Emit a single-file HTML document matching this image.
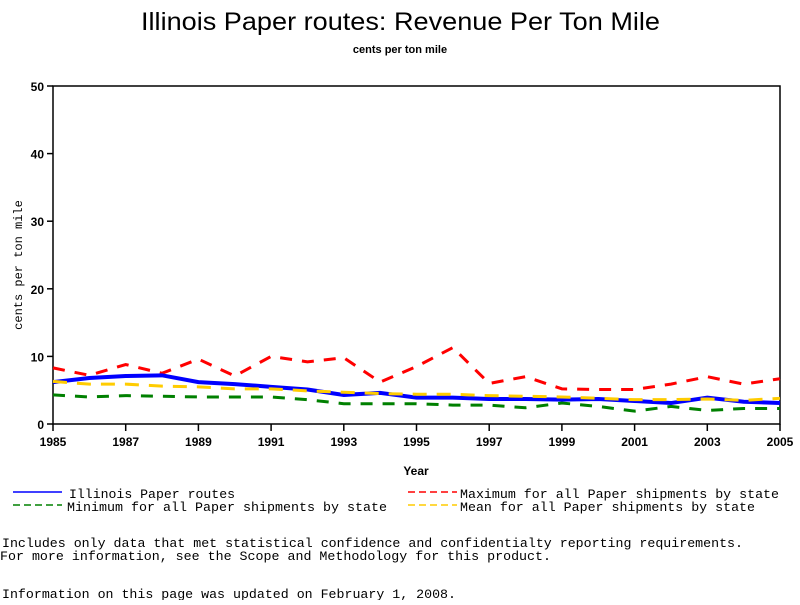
<!DOCTYPE html>
<html><head><meta charset="utf-8"><style>
body{margin:0;background:#fff;width:800px;height:600px;overflow:hidden}
svg text{font-family:"Liberation Sans",sans-serif}
.mono{font-family:"Liberation Mono",monospace}
</style></head><body>
<svg id="chart" width="800" height="600" xmlns="http://www.w3.org/2000/svg">
<text x="141" y="30" font-size="25" textLength="519" lengthAdjust="spacingAndGlyphs">Illinois Paper routes: Revenue Per Ton Mile</text>
<text x="400" y="53" text-anchor="middle" font-size="11" font-weight="bold">cents per ton mile</text>
<rect x="53" y="86" width="727" height="338" fill="none" stroke="#000" stroke-width="1.5"/>
<g id="yaxis"></g>
<g id="xaxis"></g>
<text transform="translate(22,265) rotate(-90)" text-anchor="middle" font-size="12" class="mono">cents per ton mile</text>
<text x="416" y="475" text-anchor="middle" font-size="12" font-weight="bold">Year</text>
<g id="series"></g>
<g font-size="13" class="mono">
<g><line x1="13" y1="492" x2="62" y2="492" stroke="#0000ff" stroke-width="1.5"/><text x="69" y="498" class="mono" textLength="166" lengthAdjust="spacingAndGlyphs">Illinois Paper routes</text></g>
<g><line x1="13" y1="505" x2="62" y2="505" stroke="#008000" stroke-width="1.5" stroke-dasharray="7,4"/><text x="67" y="511" class="mono" textLength="320" lengthAdjust="spacingAndGlyphs">Minimum for all Paper shipments by state</text></g>
<g><line x1="408" y1="492" x2="457" y2="492" stroke="#ff0000" stroke-width="1.5" stroke-dasharray="7,4"/><text x="460" y="498" class="mono" textLength="319" lengthAdjust="spacingAndGlyphs">Maximum for all Paper shipments by state</text></g>
<g><line x1="408" y1="505" x2="457" y2="505" stroke="#ffcc00" stroke-width="1.5" stroke-dasharray="7,4"/><text x="460" y="511" class="mono" textLength="295" lengthAdjust="spacingAndGlyphs">Mean for all Paper shipments by state</text></g>
</g>
<text x="2" y="547" font-size="13" class="mono" textLength="741" lengthAdjust="spacingAndGlyphs">Includes only data that met statistical confidence and confidentialty reporting requirements.</text>
<text x="0" y="560" font-size="13" class="mono" textLength="551" lengthAdjust="spacingAndGlyphs">For more information, see the Scope and Methodology for this product.</text>
<text x="2" y="598" font-size="13" class="mono" textLength="454" lengthAdjust="spacingAndGlyphs">Information on this page was updated on February 1, 2008.</text>
</svg>
<script>
const years=[1985,1986,1987,1988,1989,1990,1991,1992,1993,1994,1995,1996,1997,1998,1999,2000,2001,2002,2003,2004,2005];
const illinois=[6.2,6.8,7.1,7.2,6.2,5.9,5.5,5.1,4.3,4.6,3.9,3.9,3.7,3.7,3.6,3.7,3.4,3.1,3.9,3.3,3.1];
const maximum=[8.3,7.2,8.8,7.5,9.6,7.1,10.0,9.2,9.8,6.2,8.5,11.3,6.0,7.0,5.2,5.1,5.1,5.9,7.0,5.9,6.7];
const minimum=[4.3,4.0,4.2,4.1,4.0,4.0,4.0,3.6,3.0,3.0,3.0,2.8,2.8,2.4,3.1,2.6,1.9,2.6,2.0,2.3,2.3];
const mean=[6.3,5.9,5.9,5.6,5.5,5.2,5.2,4.9,4.7,4.5,4.4,4.4,4.2,4.1,4.0,3.8,3.6,3.6,3.7,3.5,3.8];
const yTicks=[0,10,20,30,40,50];
const xTicks=[1985,1987,1989,1991,1993,1995,1997,1999,2001,2003,2005];
const NS="http://www.w3.org/2000/svg";
const X=y=>53+(y-1985)*(727/20);
const Y=v=>424-v*(338/50);
function mk(t,a,p){const e=document.createElementNS(NS,t);for(const k in a)e.setAttribute(k,a[k]);p.appendChild(e);return e;}
const ya=document.getElementById('yaxis'),xa=document.getElementById('xaxis'),sg=document.getElementById('series');
yTicks.forEach(v=>{
 const l=mk('line',{x1:47,x2:53,y1:Y(v),y2:Y(v),stroke:'#000','stroke-width':1.5},ya);
 
 
 const t=mk('text',{x:44,y:Y(v)+5,'text-anchor':'end','font-size':12,'font-weight':'bold'},ya);
 t.textContent=v;
 
 
});
xTicks.forEach(v=>{
 const l=mk('line',{x1:X(v),x2:X(v),y1:424,y2:431,stroke:'#000','stroke-width':1.5},xa);
 
 
 const t=mk('text',{x:X(v),y:446,'text-anchor':'middle','font-size':12,'font-weight':'bold'},xa);
 t.textContent=v;
 
 
});
function line(data,color,w,dash,name){
 const p=mk('polyline',{points:data.map((v,i)=>X(years[i])+','+Y(v)).join(' '),fill:'none',stroke:color,'stroke-width':w,'stroke-dasharray':dash},sg);
 
 
}
line(minimum,'#008000',3,'12,10','minimum-line');
line(maximum,'#ff0000',3,'12,10','maximum-line');
line(illinois,'#0000ff',4,'none','illinois-line');
line(mean,'#ffcc00',3,'14,10','mean-line');
</script>
</body></html>
